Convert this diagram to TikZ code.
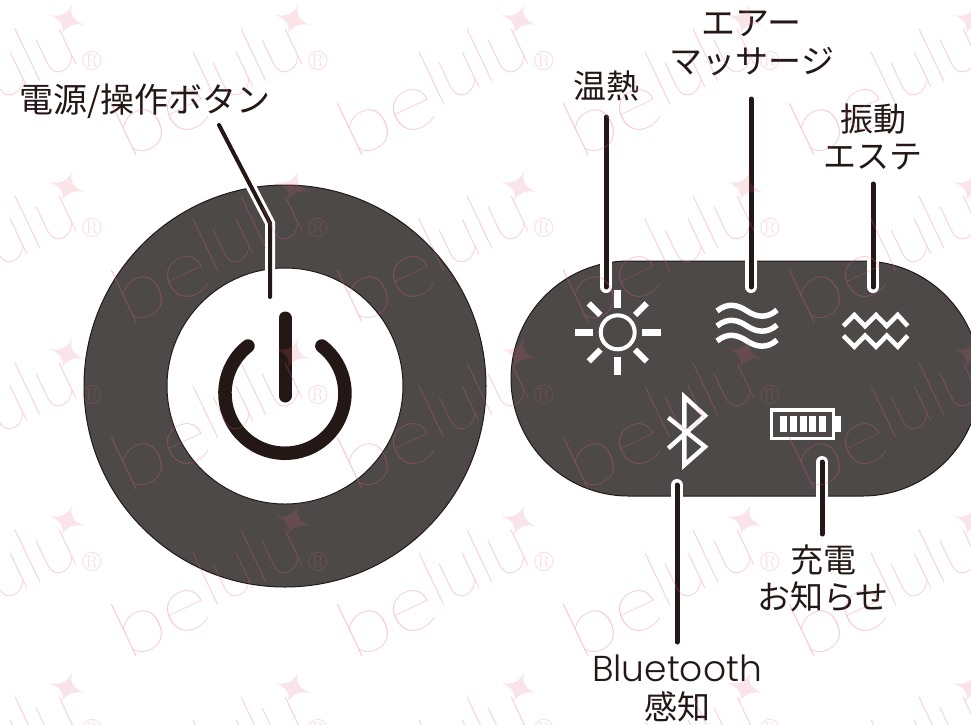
\documentclass[tikz,border=0pt]{standalone}
\usepackage{fontspec}
\newfontfamily\cjk{Noto Sans CJK JP}
\newfontfamily\wmfont{Lato Hairline}
\newfontfamily\latn{Poppins Light}
\definecolor{ink}{HTML}{231815}
\definecolor{panel}{HTML}{4C4948}
\definecolor{wmpink}{HTML}{E8607F}
\tikzset{
  lbl/.style={font=\cjk\fontsize{33}{33}\selectfont,text=ink,inner sep=0pt,anchor=center},
  shell/.style={fill=panel,draw=ink,line width=1pt},
  casing/.style={draw=white,line width=12pt,line cap=round},
  leader/.style={draw=ink,line width=5pt,line cap=round},
  icon/.style={draw=white,line width=4.4pt},
  wm/.style={opacity=.36,text opacity=.36,text=wmpink,inner sep=0pt,anchor=base west,rotate=25.5,font=\wmfont\fontsize{80}{80}\selectfont},
  wmr/.style={opacity=.22,text opacity=.22,text=wmpink,inner sep=0pt,font=\fontsize{28}{28}\selectfont},
}
\begin{document}
\begin{tikzpicture}[x=1pt,y=-1pt]
\useasboundingbox (0,0) rectangle (971,724);
\fill[white] (0,0) rectangle (971,724);
\clip (0,0) rectangle (971,724);

% left button
\draw[shell] (285,386) circle (201);
\draw[fill=white,draw=ink,line width=1pt] (285,386) circle (118);
\draw[draw=ink,line width=13.5pt,line cap=round] (248,346) arc[start angle=-128,end angle=-412,radius=60];
\coordinate (pbt) at (285,318); \coordinate (pbb) at (285,396);
\draw[draw=ink,line width=13pt,line cap=round] (pbt) -- (pbb);

% right panel
\draw[shell] (628.5,261) -- (862.5,261) arc[start angle=-90,end angle=90,radius=117.5] -- (628.5,496) arc[start angle=90,end angle=270,radius=117.5] -- cycle;

% sun
\coordinate (sun) at (617.7,332.3);
\draw[icon,line width=4pt] (sun) circle (17);
\begin{scope}[shift={(sun)}]
\fill[white] (-42.7,-3.6) rectangle (-24.4,3.6);
\fill[white] (24,-3.6) rectangle (43,3.6);
\fill[white] (-3.6,-42.3) rectangle (3.6,-24.6);
\fill[white] (-3.6,24.4) rectangle (3.6,42.7);
\foreach \a in {45,135,225,315}
  \draw[white,line width=6pt,rotate=\a] (24.5,0) -- (41,0);
\end{scope}
% air waves
\foreach \d in {0,15,30}
  \draw[white,line width=5.5pt,yshift=-\d pt]
    (717,311) .. controls (728,302) and (738,305) .. (747,311) .. controls (756,317) and (767,319) .. (777,310);
% aqua
\draw[icon,line width=4.6pt] (843.3,326) -- (854.3,315) -- (865,326) -- (876,315) -- (886.7,326) -- (897.7,315) -- (907.7,326);
\draw[icon,line width=4.6pt] (843.3,335.7) -- (854.3,346.7) -- (865,335.7) -- (876,346.7) -- (886.7,335.7) -- (897.7,346.7) -- (907.7,335.7);
% bluetooth
\draw[icon] (668.3,417.7) -- (705,446.7) -- (684.3,465) -- (684.3,396.7) -- (705,415.7) -- (668.3,448.3);
% battery
\draw[white,line width=3.4pt] (771.7,410) rectangle (833.3,438.3);
\fill[white] (835,416) rectangle (840.7,431.7);
\foreach \x in {780,790,800,809.3,819}
  \fill[white] (\x,416) rectangle ++(6.7,15.7);

% labels
\node[lbl,anchor=west,font=\cjk\fontsize{34}{34}\selectfont] (power) at (19,101) {電源/操作ボタン};
\node[lbl] (heat) at (606,86) {温熱};
\node[lbl,font=\cjk\fontsize{34}{34}\selectfont] (air1) at (751,24) {エアー};
\node[lbl] (air2) at (752,62) {マッサージ};
\node[lbl] (vib1) at (873,119) {振動};
\node[lbl] (vib2) at (873,157) {エステ};
\node[lbl,font=\latn\fontsize{36}{36}\selectfont] (bt1) at (677,668) {Bluetooth};
\node[lbl] (bt2) at (677,707) {感知};
\node[lbl] (ch1) at (823,560) {充電};
\node[lbl] (ch2) at (823,597) {お知らせ};

% leaders
\coordinate (pa) at (219,125); \coordinate (pb) at (270,223); \coordinate (pc) at (270,297);
\draw[casing,line width=10pt,line cap=butt,line join=miter] (pa) -- (pb) -- (pc);
\draw[leader,line width=4pt,line join=miter] (pa) -- (pb) -- (pc);
\coordinate (ha) at (606,117); \coordinate (hb) at (606,287);
\coordinate (aa) at (751,99);  \coordinate (ab) at (751,287);
\coordinate (va) at (873,184); \coordinate (vb) at (873,287);
\coordinate (ba) at (677,642); \coordinate (bb) at (677,485);
\coordinate (ca) at (822,534); \coordinate (cb) at (822,462);
\foreach \p/\q in {ha/hb,aa/ab,va/vb,ba/bb,ca/cb}{
  \draw[casing] (\p) -- (\q);
  \draw[leader] (\p) -- (\q);
}

% watermark
\foreach \k in {0,...,4}
 \foreach \j in {0,...,4}{
  \pgfmathsetmacro{\mx}{92+226*\k}
  \pgfmathsetmacro{\my}{61+167*\j}
  \begin{scope}[shift={(\mx,\my)}]
    \node[wm] (wa\k\j) at (-190,99) {\scalebox{1.15}[1]{be}};
    \node[wm] (wb\k\j) at (-107,47) {\scalebox{.9}[1]{lulu}};
    \node[wmr] (r\k\j) at (0,0) {®};
    \fill[wmpink,opacity=.17,shift={(-25,-41)}] (5,-15) .. controls (3,-5) and (6,0) .. (17,5) .. controls (6,3) and (0,6) .. (-5,13) .. controls (-3,5) and (-6,0) .. (-17,-5) .. controls (-6,-3) and (0,-6) .. cycle;
  \end{scope}
 }
\end{tikzpicture}
\end{document}
